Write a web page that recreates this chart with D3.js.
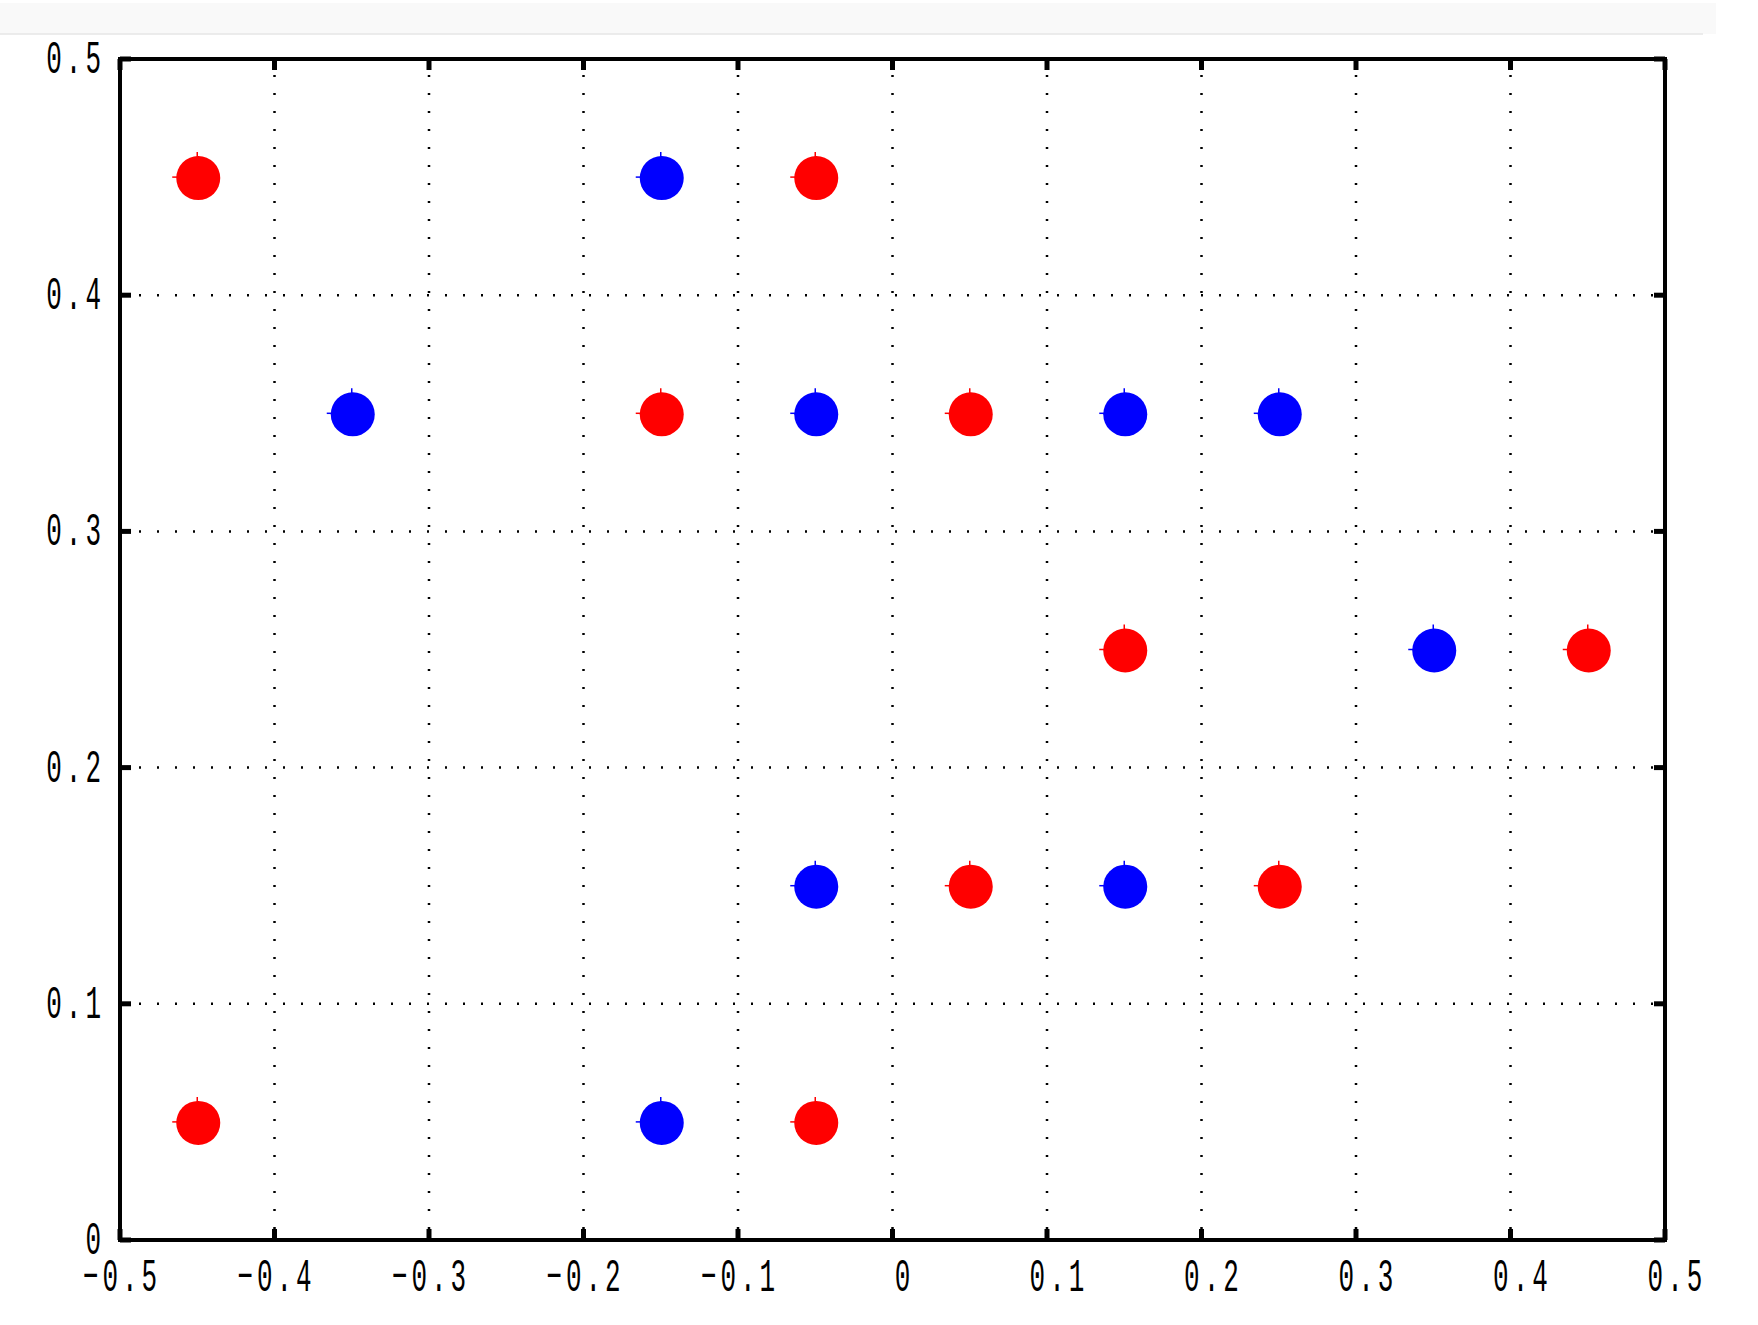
<!DOCTYPE html>
<html>
<head>
<meta charset="utf-8">
<script src="https://cdn.jsdelivr.net/npm/d3@7"></script>
<style>
  html, body { margin: 0; padding: 0; background: #ffffff; }
  svg { display: block; }
</style>
</head>
<body>
<svg id="chart" width="1758" height="1325"></svg>
<script>
// ---- data ----
const redX = [-0.45, -0.05, -0.15, 0.05, 0.15, 0.45, 0.05, 0.25, -0.45, -0.05];
const redY = [ 0.45,  0.45,  0.35, 0.35, 0.25, 0.25, 0.15, 0.15,  0.05,  0.05];
const blueX = [-0.15, -0.35, -0.05, 0.15, 0.25, 0.35, -0.05, 0.15, -0.15];
const blueY = [ 0.45,  0.35,  0.35, 0.35, 0.35, 0.25,  0.15, 0.15,  0.05];
const xTicks = [-0.5, -0.4, -0.3, -0.2, -0.1, 0, 0.1, 0.2, 0.3, 0.4, 0.5];
const yTicks = [0, 0.1, 0.2, 0.3, 0.4, 0.5];
const xTickLabels = ["−0.5", "−0.4", "−0.3", "−0.2", "−0.1", "0", "0.1", "0.2", "0.3", "0.4", "0.5"];
const yTickLabels = ["0", "0.1", "0.2", "0.3", "0.4", "0.5"];

// ---- layout ----
const L = 120, R = 1665, T = 59, B = 1240;
const svg = d3.select("#chart");

// top gray band
svg.append("rect").attr("x", 0).attr("y", 3).attr("width", 1716).attr("height", 31).attr("fill", "#f9f9f9");
svg.append("line").attr("x1", 0).attr("x2", 1703).attr("y1", 34).attr("y2", 34).attr("stroke", "#e6e6e6").attr("stroke-width", 1.5);

const x = d3.scaleLinear().domain([-0.5, 0.5]).range([L, R]);
const y = d3.scaleLinear().domain([0, 0.5]).range([B, T]);

// grid
const g = svg.append("g");
g.selectAll(".vg").data(xTicks.slice(1, -1)).enter().append("line")
  .attr("x1", d => x(d)).attr("x2", d => x(d)).attr("y1", B).attr("y2", T)
  .attr("stroke", "#000").attr("stroke-width", 2.5).attr("stroke-dasharray", "2,16").attr("stroke-dashoffset", 7);
g.selectAll(".hg").data(yTicks.slice(1, -1)).enter().append("line")
  .attr("x1", L).attr("x2", R).attr("y1", d => y(d)).attr("y2", d => y(d))
  .attr("stroke", "#000").attr("stroke-width", 2.5).attr("stroke-dasharray", "2,16").attr("stroke-dashoffset", -19);

// ticks (inward, on all four sides)
const tk = svg.append("g").attr("stroke", "#000").attr("stroke-width", 5);
xTicks.forEach(d => {
  tk.append("line").attr("x1", x(d)).attr("x2", x(d)).attr("y1", B).attr("y2", B - 11);
  tk.append("line").attr("x1", x(d)).attr("x2", x(d)).attr("y1", T).attr("y2", T + 11);
});
yTicks.forEach(d => {
  tk.append("line").attr("y1", y(d)).attr("y2", y(d)).attr("x1", L).attr("x2", L + 11);
  tk.append("line").attr("y1", y(d)).attr("y2", y(d)).attr("x1", R).attr("x2", R - 11);
});

// frame
svg.append("rect").attr("x", L).attr("y", T).attr("width", R - L).attr("height", B - T)
  .attr("fill", "none").attr("stroke", "#000").attr("stroke-width", 4);

// labels (narrow, tall, monospaced look)
const fontFam = "'Liberation Mono', 'DejaVu Sans Mono', monospace";
const stretch = 1.8;
const fs = 26;
const ls = 4;
svg.append("g").selectAll("text").data(xTicks).enter().append("text")
  .attr("transform", d => `translate(${x(d) + (d >= 0 ? 10 : 0) + ls / 2},${B + 51}) scale(1,${stretch})`)
  .attr("text-anchor", "middle")
  .attr("letter-spacing", ls)
  .attr("font-family", fontFam).attr("font-size", fs).attr("fill", "#000")
  .text((d, i) => xTickLabels[i]);
svg.append("g").selectAll("text").data(yTicks).enter().append("text")
  .attr("transform", d => `translate(${101 + ls},${y(d) + 14}) scale(1,${stretch})`)
  .attr("text-anchor", "end")
  .attr("letter-spacing", ls)
  .attr("font-family", fontFam).attr("font-size", fs).attr("fill", "#000")
  .text((d, i) => yTickLabels[i]);

// points
function drawSeries(xs, ys, color) {
  const pts = xs.map((v, i) => ({ x: v, y: ys[i] }));
  const s = svg.append("g");
  s.selectAll("line.h").data(pts).enter().append("line")
    .attr("x1", d => x(d.x) - 25).attr("x2", d => x(d.x))
    .attr("y1", d => y(d.y)).attr("y2", d => y(d.y))
    .attr("stroke", color).attr("stroke-width", 1.5);
  s.selectAll("line.v").data(pts).enter().append("line")
    .attr("x1", d => x(d.x)).attr("x2", d => x(d.x))
    .attr("y1", d => y(d.y) - 25).attr("y2", d => y(d.y))
    .attr("stroke", color).attr("stroke-width", 1.5);
  s.selectAll("circle").data(pts).enter().append("circle")
    .attr("cx", d => x(d.x) + 1).attr("cy", d => y(d.y) + 1).attr("r", 22)
    .attr("fill", color);
}
drawSeries(redX, redY, "#ff0000");
drawSeries(blueX, blueY, "#0000ff");
</script>
</body>
</html>
